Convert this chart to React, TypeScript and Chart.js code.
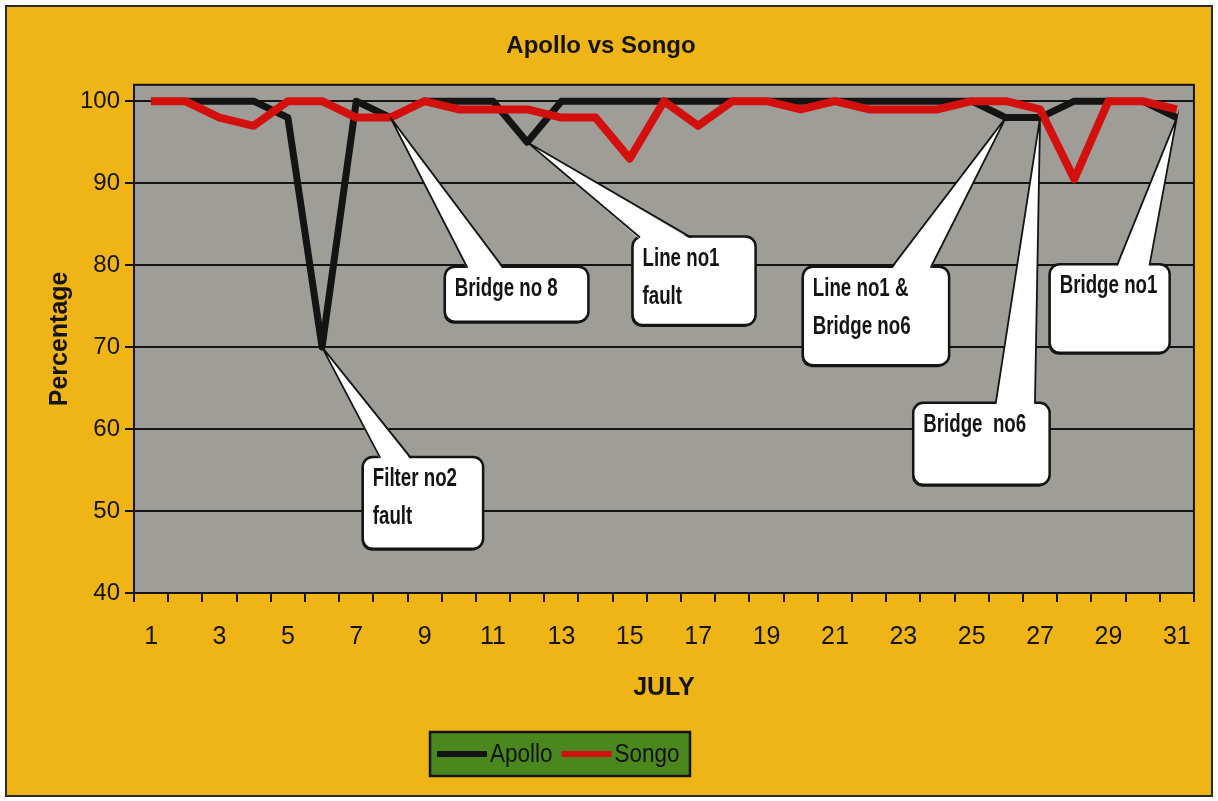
import React, { useEffect, useRef } from 'react';
import { Chart, registerables } from 'chart.js';

Chart.register(...registerables);

// ---------- data ----------
const chartTitle = 'Apollo vs Songo';
const xAxisTitle = 'JULY';
const yAxisTitle = 'Percentage';
const days = ['1', '2', '3', '4', '5', '6', '7', '8', '9', '10', '11', '12', '13', '14', '15', '16',
  '17', '18', '19', '20', '21', '22', '23', '24', '25', '26', '27', '28', '29', '30', '31'];
const seriesNames = ['Apollo', 'Songo'];
const apollo = [100, 100, 100, 100, 98, 70, 100, 98, 100, 100, 100, 95, 100, 100, 100, 100,
  100, 100, 100, 100, 100, 100, 100, 100, 100, 98, 98, 100, 100, 100, 98];
const songo = [100, 100, 98, 97, 100, 100, 98, 98, 100, 99, 99, 99, 98, 98, 93, 100,
  97, 100, 100, 99, 100, 99, 99, 99, 100, 100, 99, 90.5, 100, 100, 99];
const yMin = 40;
const yMax = 102;
const yStep = 10;

// callout annotations: label lines, target (series index, day index)
const calloutLabels = [
  ['Filter no2', 'fault'],
  ['Bridge no 8'],
  ['Line no1', 'fault'],
  ['Line no1 &', 'Bridge no6'],
  ['Bridge  no6'],
  ['Bridge no1'],
];
const calloutTargets = [
  [0, 5], [0, 7], [0, 11], [0, 25], [0, 26], [0, 30],
];
// box placement in data space: [dayLeft, valueTop, dayRight, valueBottom, wedgeBaseFromDay, wedgeBaseToDay]
const calloutBoxes = [
  [7.19, 56.6, 10.71, 45.4, 7.7, 8.6],
  [9.59, 79.8, 13.79, 73.1, 10.25, 11.3],
  [15.08, 83.5, 18.68, 72.7, 15.3, 16.8],
  [20.06, 79.8, 24.34, 67.8, 22.65, 23.8],
  [23.29, 63.2, 27.28, 53.2, 25.7, 26.85],
  [27.28, 80.1, 30.79, 69.3, 29.25, 30.2],
];

// ---------- styles ----------
const YELLOW = '#efb416';
const PLOT_GRAY = '#9e9d97';
const INK = '#141414';
const RED = '#d4100f';
const LEGEND_GREEN = '#4a881e';
const SANS = '"Liberation Sans", Arial, sans-serif';

const plotBackground = {
  id: 'plotBackground',
  beforeDraw(chart: any) {
    const { ctx, chartArea: a } = chart;
    ctx.save();
    ctx.fillStyle = PLOT_GRAY;
    ctx.fillRect(a.left, a.top, a.right - a.left, a.bottom - a.top);
    ctx.restore();
  },
  beforeDatasetsDraw(chart: any) {
    const { ctx, chartArea: a } = chart;
    ctx.save();
    ctx.strokeStyle = INK;
    ctx.lineWidth = 2;
    ctx.strokeRect(a.left, a.top, a.right - a.left, a.bottom - a.top);
    ctx.restore();
  },
};

const calloutPlugin = {
  id: 'callouts',
  afterDatasetsDraw(chart: any) {
    const { ctx } = chart;
    const xs = chart.scales.x;
    const ys = chart.scales.y;
    const dx = (d: number) => xs.getPixelForValue(d - 1);
    calloutBoxes.forEach((b, i) => {
      const [sIdx, dIdx] = calloutTargets[i];
      const pt = chart.getDatasetMeta(sIdx).data[dIdx];
      const x1 = dx(b[0]);
      const y1 = ys.getPixelForValue(b[1]);
      const x2 = dx(b[2]);
      const y2 = ys.getPixelForValue(b[3]);
      const bx1 = dx(b[4]);
      const bx2 = dx(b[5]);
      ctx.save();
      // box with slight drop edge
      ctx.beginPath();
      ctx.roundRect(x1 - 1, y1 + 1, x2 - x1, y2 - y1 + 1, 10);
      ctx.fillStyle = INK;
      ctx.fill();
      ctx.beginPath();
      ctx.roundRect(x1, y1, x2 - x1, y2 - y1, 10);
      ctx.fillStyle = '#ffffff';
      ctx.fill();
      ctx.lineWidth = 2.5;
      ctx.strokeStyle = INK;
      ctx.stroke();
      // wedge
      ctx.beginPath();
      ctx.moveTo(bx1, y1 + 3);
      ctx.lineTo(pt.x, pt.y);
      ctx.lineTo(bx2, y1 + 3);
      ctx.closePath();
      ctx.fillStyle = '#ffffff';
      ctx.fill();
      ctx.beginPath();
      ctx.moveTo(bx1, y1 + 1);
      ctx.lineTo(pt.x, pt.y);
      ctx.lineTo(bx2, y1 + 1);
      ctx.lineWidth = 1.8;
      ctx.stroke();
      // text
      ctx.fillStyle = INK;
      ctx.font = 'bold 26px ' + SANS;
      ctx.textBaseline = 'middle';
      ctx.textAlign = 'left';
      calloutLabels[i].forEach((line, j) => {
        ctx.save();
        ctx.translate(x1 + 10, y1 + 22 + j * 38);
        ctx.scale(0.72, 1);
        ctx.fillText(line, 0, 0);
        ctx.restore();
      });
      ctx.restore();
    });
  },
};

const legendPlugin = {
  id: 'boxLegend',
  afterDraw(chart: any) {
    const { ctx } = chart;
    const left = 423;
    const top = 725;
    const w = 260;
    const h = 44;
    ctx.save();
    ctx.fillStyle = LEGEND_GREEN;
    ctx.fillRect(left, top, w, h);
    ctx.strokeStyle = INK;
    ctx.lineWidth = 2.5;
    ctx.strokeRect(left, top, w, h);
    let x = left + 7;
    const cy = top + h / 2;
    chart.data.datasets.forEach((ds: any) => {
      ctx.strokeStyle = ds.borderColor;
      ctx.lineWidth = 6;
      ctx.beginPath();
      ctx.moveTo(x, cy);
      ctx.lineTo(x + 50, cy);
      ctx.stroke();
      x += 53;
      ctx.save();
      ctx.font = '25px ' + SANS;
      ctx.fillStyle = INK;
      ctx.textBaseline = 'middle';
      ctx.translate(x, cy + 1);
      ctx.scale(0.9, 1);
      ctx.fillText(ds.label, 0, 0);
      const tw = ctx.measureText(ds.label).width * 0.9;
      ctx.restore();
      x += tw + 9;
    });
    ctx.restore();
  },
};

export default function App() {
  const ref = useRef<HTMLCanvasElement>(null);
  useEffect(() => {
    if (!ref.current) return;
    const chart = new Chart(ref.current, {
      type: 'line',
      data: {
        labels: days,
        datasets: [
          { label: seriesNames[0], data: apollo, borderColor: INK, backgroundColor: INK, borderWidth: 7, borderJoinStyle: 'round', pointRadius: 0, tension: 0, order: 1 },
          { label: seriesNames[1], data: songo, borderColor: RED, backgroundColor: RED, borderWidth: 8, borderJoinStyle: 'round', pointRadius: 0, tension: 0, order: 0 },
        ],
      },
      options: {
        animation: false,
        responsive: false,
        maintainAspectRatio: false,
        layout: { padding: { left: 0, right: 16, top: 0, bottom: 0 } },
        plugins: {
          legend: { display: false },
          tooltip: { enabled: false },
          title: {
            display: true,
            text: chartTitle,
            color: INK,
            font: { family: SANS, size: 24, weight: 'bold' },
            padding: { top: 25, bottom: 24 },
          },
        },
        scales: {
          x: {
            type: 'category',
            offset: true,
            grid: { offset: true, drawOnChartArea: false, drawTicks: true, tickLength: 9, color: INK, lineWidth: 2 },
            border: { display: true, color: INK, width: 2 },
            ticks: {
              autoSkip: false,
              maxRotation: 0,
              padding: 20,
              color: INK,
              font: { family: SANS, size: 25 },
              callback: (_v: any, idx: number) => (idx % 2 === 0 ? days[idx] : ''),
            },
            title: {
              display: true,
              text: xAxisTitle,
              color: INK,
              font: { family: SANS, size: 25, weight: 'bold' },
              padding: { top: 0, bottom: 92 },
            },
            afterFit: (s: any) => { s.height = 202; },
          },
          y: {
            min: yMin,
            max: yMax,
            ticks: {
              stepSize: yStep,
              includeBounds: false,
              padding: 5,
              color: INK,
              font: { family: SANS, size: 24 },
            },
            afterBuildTicks: (s: any) => { s.ticks = s.ticks.filter((t: any) => t.value % yStep === 0); },
            grid: { color: INK, lineWidth: 2, tickLength: 9, drawTicks: true },
            border: { display: true, color: INK, width: 2 },
            title: {
              display: true,
              text: yAxisTitle,
              color: INK,
              font: { family: SANS, size: 25, weight: 'bold' },
              padding: { top: 38, bottom: 0 },
            },
            afterFit: (s: any) => { s.width = 127; },
          },
        },
      },
      plugins: [plotBackground, calloutPlugin, legendPlugin],
    } as any);
    return () => chart.destroy();
  }, []);

  return (
    <div
      style={{
        position: 'absolute',
        left: 5,
        top: 5,
        width: 1204,
        height: 788,
        background: YELLOW,
        border: '2px solid #2a2a2a',
      }}
    >
      <canvas ref={ref} width={1204} height={788} style={{ display: 'block', width: 1204, height: 788 }} />
    </div>
  );
}
